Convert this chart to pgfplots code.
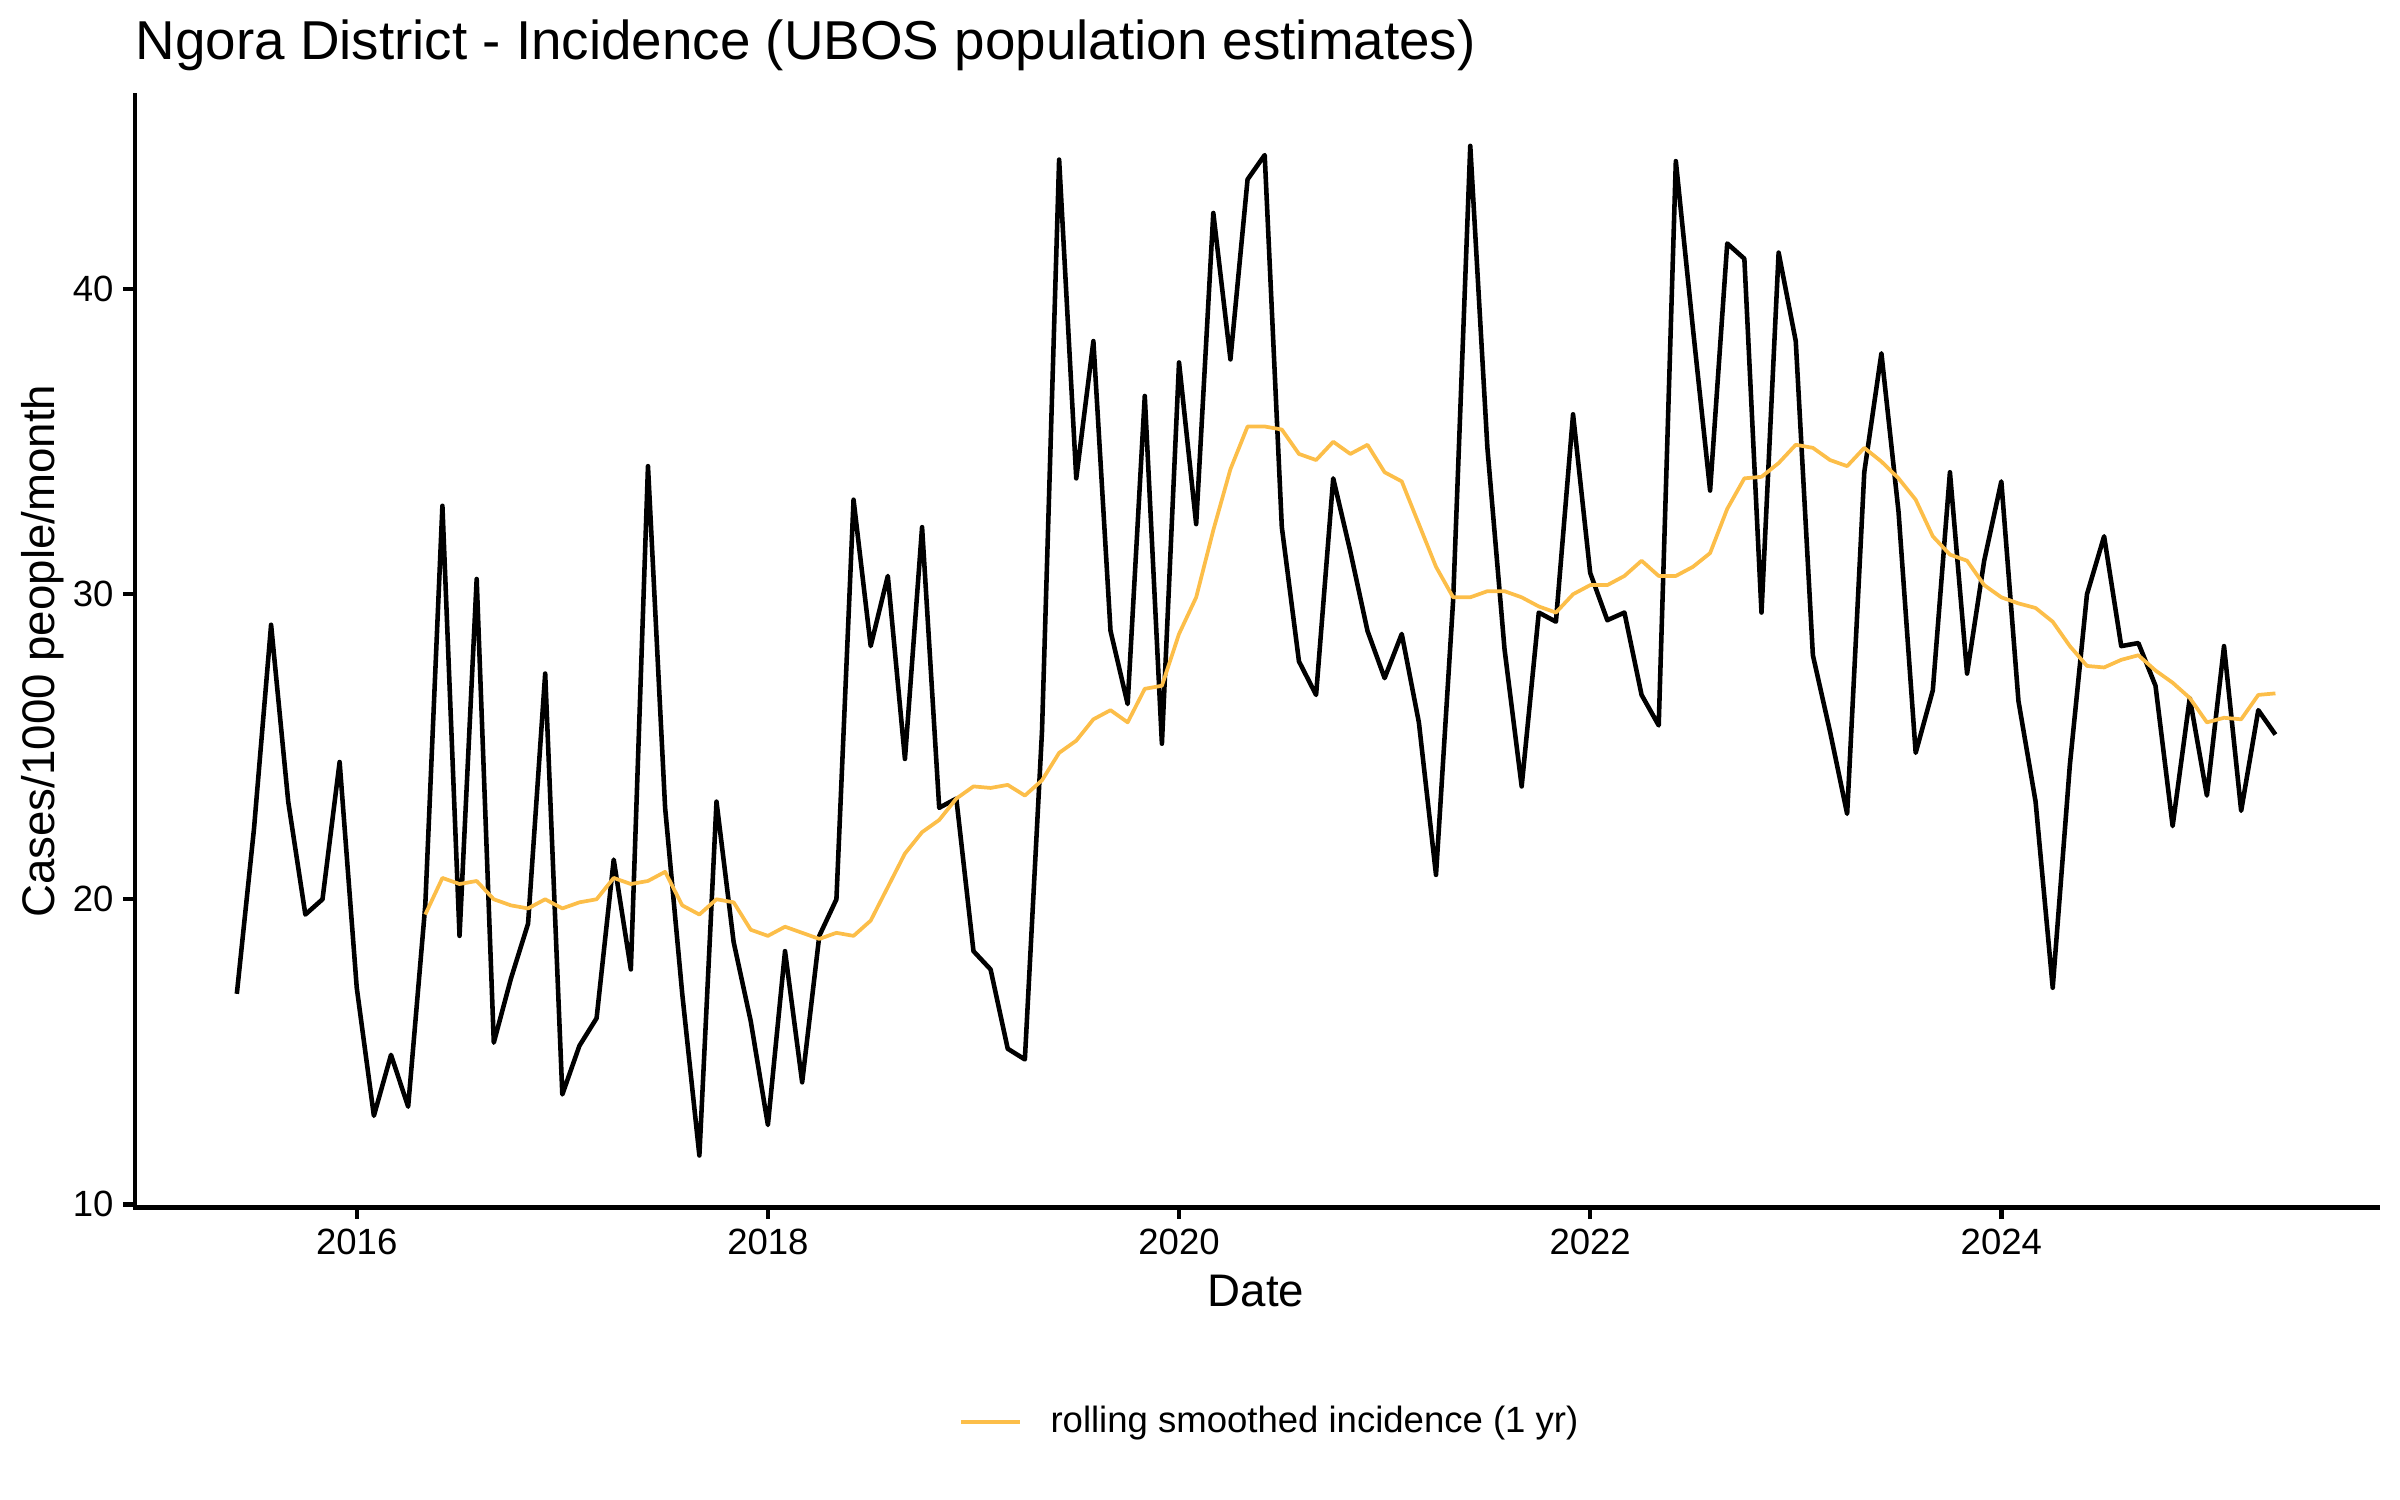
\documentclass[border=0pt]{standalone}
\usepackage{pgfplots}
\usepackage{pgfplotstable}
\pgfplotsset{compat=1.18}
\usepackage{fontspec}
\setmainfont{Liberation Sans}

\definecolor{rollcol}{RGB}{252,190,73}

% month index: 0 = Jun 2015 ... 119 = May 2025
\pgfplotstableread{
i inc roll
0 16.9 nan
1 22.3 nan
2 29.0 nan
3 23.2 nan
4 19.5 nan
5 20.0 nan
6 24.5 nan
7 17.1 nan
8 12.9 nan
9 14.9 nan
10 13.2 nan
11 19.8 19.5
12 32.9 20.7
13 18.8 20.5
14 30.5 20.6
15 15.3 20.0
16 17.4 19.8
17 19.2 19.7
18 27.4 20.0
19 13.6 19.7
20 15.2 19.9
21 16.1 20.0
22 21.3 20.7
23 17.7 20.5
24 34.2 20.6
25 23.0 20.9
26 16.9 19.8
27 11.6 19.5
28 23.2 20.0
29 18.6 19.9
30 16.0 19.0
31 12.6 18.8
32 18.3 19.1
33 14.0 18.9
34 18.8 18.7
35 20.0 18.9
36 33.1 18.8
37 28.3 19.3
38 30.6 20.4
39 24.6 21.5
40 32.2 22.2
41 23.0 22.6
42 23.3 23.3
43 18.3 23.7
44 17.7 23.65
45 15.1 23.75
46 14.75 23.4
47 25.5 23.9
48 44.25 24.8
49 33.8 25.2
50 38.3 25.9
51 28.8 26.2
52 26.4 25.8
53 36.5 26.9
54 25.1 27.0
55 37.6 28.7
56 32.3 29.9
57 42.5 32.1
58 37.7 34.1
59 43.6 35.5
60 44.4 35.5
61 32.2 35.4
62 27.8 34.6
63 26.7 34.4
64 33.8 35.0
65 31.4 34.6
66 28.8 34.9
67 27.25 34.0
68 28.7 33.7
69 25.8 32.3
70 20.8 30.9
71 29.8 29.9
72 44.7 29.9
73 34.8 30.1
74 28.2 30.1
75 23.7 29.9
76 29.4 29.6
77 29.1 29.4
78 35.9 30.0
79 30.7 30.3
80 29.15 30.3
81 29.4 30.6
82 26.7 31.1
83 25.7 30.6
84 44.2 30.6
85 38.7 30.9
86 33.4 31.35
87 41.5 32.8
88 41.0 33.8
89 29.4 33.85
90 41.2 34.3
91 38.3 34.9
92 28.0 34.8
93 25.5 34.4
94 22.8 34.2
95 34.0 34.8
96 37.9 34.35
97 32.7 33.8
98 24.8 33.1
99 26.85 31.9
100 34.0 31.3
101 27.4 31.1
102 31.1 30.3
103 33.7 29.9
104 26.5 29.7
105 23.2 29.55
106 17.1 29.1
107 24.4 28.3
108 30.0 27.65
109 31.9 27.6
110 28.3 27.85
111 28.4 28.0
112 27.0 27.5
113 22.4 27.1
114 26.6 26.6
115 23.4 25.8
116 28.3 25.95
117 22.9 25.9
118 26.2 26.7
119 25.4 26.75
}\ngora

\begin{document}
\begin{tikzpicture}
\useasboundingbox (0,0) rectangle (578.16pt,361.35pt);
\begin{axis}[
    at={(32.5pt,70.5pt)}, anchor=south west,
    scale only axis,
    width=540.2pt, height=267.9pt,
    xmin=-5.95, xmax=124.95,
    ymin=9.9, ymax=46.36,
    axis x line*=bottom, axis y line*=left,
    axis line style={line width=1.07pt, line cap=rect},
    every tick/.style={black, line width=1.07pt},
    tick align=outside, major tick length=2.75pt,
    xtick={7,31,55,79,103},
    xticklabels={2016,2018,2020,2022,2024},
    ytick={10,20,30,40},
    /pgf/number format/assume math mode=true,
    ticklabel style={font=\fontsize{8.8}{10}\selectfont, inner sep=0pt},
    xticklabel style={yshift=-2.2pt},
    yticklabel style={xshift=-2.2pt},
    title={Ngora District - Incidence (UBOS population estimates)},
    title style={at={(0,1)}, anchor=base west, yshift=2.6pt, inner sep=0pt,
        font=\fontsize{13.2}{15}\selectfont},
    xlabel={Date},
    ylabel={Cases/1000 people/month},
    label style={font=\fontsize{11}{13}\selectfont, inner sep=0pt},
    xlabel style={at={(axis description cs:0.5,-0.0896)}, anchor=base},
    ylabel style={at={(axis description cs:-0.041,0.5)}, anchor=center, rotate=0},
    legend style={at={(axis description cs:0.5076,-0.193)}, anchor=center,
        draw=none, fill=none, font=\fontsize{8.8}{10}\selectfont,
        /tikz/every even column/.append style={column sep=0pt}},
    legend image code/.code={\draw[#1] (0pt,0pt) -- (14pt,0pt);},
    legend cell align=left,
]
\addplot[black, line width=1.1pt, line join=round, forget plot] table[x=i, y=inc] {\ngora};
\addplot[rollcol, line width=0.9pt, line join=round] table[x=i, y=roll] {\ngora};
\addlegendentry{\hspace{5pt}rolling smoothed incidence (1 yr)}
\end{axis}
\end{tikzpicture}
\end{document}
